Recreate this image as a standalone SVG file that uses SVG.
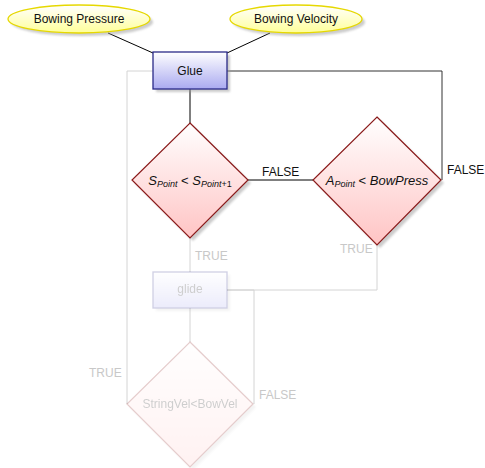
<svg xmlns="http://www.w3.org/2000/svg" width="485" height="468" viewBox="0 0 485 468">
<defs>
<linearGradient id="gy" x1="0" y1="0" x2="0" y2="1"><stop offset="0" stop-color="#ffffff"/><stop offset="1" stop-color="#ffff99"/></linearGradient>
<linearGradient id="gb" x1="0" y1="0" x2="0" y2="1"><stop offset="0" stop-color="#ffffff"/><stop offset="1" stop-color="#aaaaf0"/></linearGradient>
<linearGradient id="gr" x1="0" y1="0" x2="0" y2="1"><stop offset="0" stop-color="#ffffff"/><stop offset="1" stop-color="#ffc4c4"/></linearGradient>
<filter id="sh" x="-20%" y="-20%" width="150%" height="150%"><feGaussianBlur stdDeviation="1.2"/></filter>
</defs>
<style>
text{font-family:"Liberation Sans",Arial,sans-serif;font-size:12px;fill:#111}
.c{text-anchor:middle}
.m{font-size:13px}
.i{font-style:italic}
.sub{font-size:9px;font-style:italic}
.sup{font-size:9px}
.fade{fill:#c8c8c8}
.shadow{fill:#999;opacity:0.5;filter:url(#sh)}
.ln{fill:none;stroke:#000;stroke-width:1}
.fl{fill:none;stroke:#d4d4d4;stroke-width:1}
.ell{fill:url(#gy);stroke:#e6d800;stroke-width:1.3}
.box{fill:url(#gb);stroke:#2a2a88;stroke-width:1.3}
.dia{fill:url(#gr);stroke:#8a1a1a;stroke-width:1.2}
</style>
<g id="connectors">
<line class="ln" x1="108" y1="33" x2="153" y2="53"/>
<line class="ln" x1="270" y1="33" x2="227" y2="53"/>
<polyline class="ln" points="227,71 442,71 442,180" style="stroke:#333"/>
<line class="ln" x1="190" y1="89" x2="190" y2="123"/>
<line class="ln" x1="248" y1="180" x2="313" y2="180"/>
<polyline class="fl" points="153,71 127,71 127,404"/>
<line class="fl" x1="190" y1="238" x2="190" y2="272"/>
<polyline class="fl" points="377,245 377,290 227,290"/>
<polyline class="fl" points="227,290 254,290 254,404"/>
<line class="fl" x1="190" y1="308" x2="190" y2="342"/>
<text x="262" y="176">FALSE</text>
<text x="447" y="174">FALSE</text>
<text x="195" y="260" class="fade">TRUE</text>
<text x="340" y="253" class="fade">TRUE</text>
<text x="89" y="377" class="fade">TRUE</text>
<text x="259" y="399" class="fade">FALSE</text>
</g>
<g id="bowing-pressure">
<ellipse class="shadow" cx="82" cy="22" rx="71" ry="14"/>
<ellipse class="ell" cx="79" cy="19" rx="71" ry="14"/>
<text class="c" x="79" y="23">Bowing Pressure</text>
</g>
<g id="bowing-velocity">
<ellipse class="shadow" cx="299" cy="22" rx="66" ry="14"/>
<ellipse class="ell" cx="296" cy="19" rx="66" ry="14"/>
<text class="c" x="296" y="23">Bowing Velocity</text>
</g>
<g id="glue">
<rect class="shadow" x="156" y="55" width="74" height="37"/>
<rect class="box" x="153" y="52" width="74" height="37"/>
<text class="c" x="190" y="75">Glue</text>
</g>
<g id="cond-s">
<polygon class="shadow" points="193,126 251,183 193,241 135,183"/>
<polygon class="dia" points="190,123 248,180 190,238 132,180"/>
<text class="c m" x="190" y="185"><tspan class="i">S</tspan><tspan class="sub" dy="2">Point</tspan><tspan dy="-2"> &lt; </tspan><tspan class="i">S</tspan><tspan class="sub" dy="2">Point</tspan><tspan class="sup">+1</tspan></text>
</g>
<g id="cond-a">
<polygon class="shadow" points="380,120 444,183 380,248 316,183"/>
<polygon class="dia" points="377,117 441,180 377,245 313,180"/>
<text class="c m" x="377" y="185"><tspan class="i">A</tspan><tspan class="sub" dy="2">Point</tspan><tspan dy="-2"> &lt; </tspan><tspan class="i">BowPress</tspan></text>
</g>
<g id="glide" opacity="0.22">
<rect class="shadow" x="156" y="275" width="74" height="36"/>
<rect class="box" x="153" y="272" width="74" height="36"/>
<text class="c" x="190" y="293" style="fill:#222">glide</text>
</g>
<g id="cond-vel" opacity="0.22">
<polygon class="shadow" points="193,345 256,407 193,470 130,407"/>
<polygon class="dia" points="190,342 253,404 190,467 127,404"/>
<text class="c" x="190" y="408" style="fill:#222">StringVel&lt;BowVel</text>
</g>
</svg>
